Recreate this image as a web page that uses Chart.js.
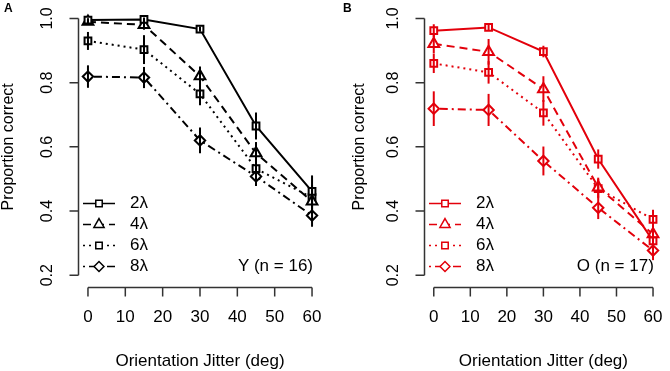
<!DOCTYPE html>
<html>
<head>
<meta charset="utf-8">
<script src="https://cdn.jsdelivr.net/npm/chart.js@4"></script>
<style>
html,body{margin:0;padding:0;background:#fff;}
#wrap{position:relative;width:670px;height:371px;overflow:hidden;}
.p{position:absolute;top:0;width:335px;height:371px;}
</style>
</head>
<body>
<div id="wrap">
  <div class="p" style="left:0"><canvas id="cA" width="335" height="371"></canvas></div>
  <div class="p" style="left:335px"><canvas id="cB" width="335" height="371"></canvas></div>
</div>
<script>
// ---- data ----
const jitter = [0, 15, 30, 45, 60];
const seriesLabels = ['2λ', '4λ', '6λ', '8λ'];
const yTicks = [0.2, 0.4, 0.6, 0.8, 1.0];
const yTickLabels = ['0.2', '0.4', '0.6', '0.8', '1.0'];
const xTicks = [0, 10, 20, 30, 40, 50, 60];
const xTickLabels = ['0', '10', '20', '30', '40', '50', '60'];

const youngMean2 = [0.995, 0.997, 0.967, 0.665, 0.461];
const youngMean4 = [0.990, 0.980, 0.820, 0.580, 0.430];
const youngMean6 = [0.930, 0.903, 0.765, 0.532, 0.442];
const youngMean8 = [0.819, 0.816, 0.620, 0.508, 0.386];
const youngErr2 = [0.006, 0.006, 0.008, 0.042, 0.050];
const youngErr4 = [0.008, 0.015, 0.030, 0.035, 0.040];
const youngErr6 = [0.028, 0.045, 0.035, 0.030, 0.040];
const youngErr8 = [0.035, 0.033, 0.040, 0.030, 0.035];

const oldMean2 = [0.962, 0.972, 0.897, 0.562, 0.307];
const oldMean4 = [0.921, 0.896, 0.780, 0.474, 0.328];
const oldMean6 = [0.860, 0.832, 0.706, 0.470, 0.374];
const oldMean8 = [0.719, 0.715, 0.556, 0.410, 0.277];
const oldErr2 = [0.020, 0.010, 0.018, 0.030, 0.030];
const oldErr4 = [0.030, 0.040, 0.040, 0.030, 0.030];
const oldErr6 = [0.030, 0.035, 0.040, 0.030, 0.030];
const oldErr8 = [0.054, 0.050, 0.045, 0.035, 0.030];

const xTitle = 'Orientation Jitter (deg)';
const yTitle = 'Proportion correct';

// ---- styles ----
const FONT = '"Liberation Sans", Arial, Helvetica, sans-serif';
const dashes = [[], [8, 5], [2, 4], [2, 4, 8, 4]];
const pStyles = ['rect', 'triangle', 'rect', 'rectRot'];
const pRadius = [4.8, 6.2, 4.8, 5.2];

function pts(arr) { return jitter.map((x, i) => ({x: x, y: arr[i]})); }

function makeDatasets(means, color) {
  return means.map((m, k) => ({
    label: seriesLabels[k],
    data: pts(m),
    borderColor: color,
    backgroundColor: '#fff',
    borderWidth: 2,
    borderDash: dashes[k],
    pointStyle: pStyles[k],
    pointRadius: pRadius[k],
    pointBorderWidth: 2,
    pointBorderColor: color,
    pointBackgroundColor: '#fff',
    fill: false,
    tension: 0
  }));
}

function legendPoint(ctx, style, r, x, y, color) {
  ctx.save();
  ctx.setLineDash([]);
  ctx.strokeStyle = color; ctx.fillStyle = '#fff'; ctx.lineWidth = 1.5;
  Chart.helpers.drawPoint(ctx, {pointStyle: style, radius: r, borderWidth: 1.5, rotation: 0}, x, y);
  ctx.restore();
}

function panelPlugin(opt) {
  return {
    id: 'panel' + opt.letter,
    afterDatasetsDraw(chart) {
      const ctx = chart.ctx, xs = chart.scales.x, ys = chart.scales.y;
      ctx.save();
      ctx.strokeStyle = opt.color;
      ctx.lineWidth = 2;
      ctx.setLineDash([]);
      opt.errs.forEach((errArr, k) => {
        const m = opt.means[k];
        jitter.forEach((x, i) => {
          const px = xs.getPixelForValue(x);
          ctx.beginPath();
          ctx.moveTo(px, ys.getPixelForValue(m[i] + errArr[i]));
          ctx.lineTo(px, ys.getPixelForValue(m[i] - errArr[i]));
          ctx.stroke();
        });
      });
      ctx.restore();
    },
    afterDraw(chart) {
      const ctx = chart.ctx, xs = chart.scales.x, ys = chart.scales.y;
      const ca = chart.chartArea;
      ctx.save();
      ctx.strokeStyle = '#333';
      ctx.fillStyle = '#000';
      ctx.lineWidth = 1.5;
      ctx.setLineDash([]);
      // y axis
      const ax = Math.round(ca.left) - 0.5;
      ctx.beginPath();
      ctx.moveTo(ax, ys.getPixelForValue(yTicks[0]));
      ctx.lineTo(ax, ys.getPixelForValue(yTicks[yTicks.length - 1]));
      yTicks.forEach(v => {
        const py = ys.getPixelForValue(v);
        ctx.moveTo(ax, py); ctx.lineTo(ax - 9, py);
      });
      ctx.stroke();
      ctx.font = '16px ' + FONT;
      ctx.textAlign = 'center';
      ctx.textBaseline = 'middle';
      yTicks.forEach((v, i) => {
        const py = ys.getPixelForValue(v);
        ctx.save();
        ctx.translate(ax - 31, py);
        ctx.rotate(-Math.PI / 2);
        ctx.fillText(yTickLabels[i], 0, 0);
        ctx.restore();
      });
      // x axis
      const ay = Math.round(ca.bottom) + 1.5;
      ctx.beginPath();
      ctx.moveTo(xs.getPixelForValue(xTicks[0]), ay);
      ctx.lineTo(xs.getPixelForValue(xTicks[xTicks.length - 1]), ay);
      xTicks.forEach(v => {
        const px = xs.getPixelForValue(v);
        ctx.moveTo(px, ay); ctx.lineTo(px, ay + 9);
      });
      ctx.stroke();
      ctx.font = '17px ' + FONT;
      xTicks.forEach((v, i) => {
        ctx.fillText(xTickLabels[i], xs.getPixelForValue(v), ay + 30);
      });
      // titles
      ctx.fillText(xTitle, (ca.left + ca.right) / 2, ay + 74);
      ctx.save();
      ctx.translate(ca.left - opt.yTitleOffset, (ca.top + ca.bottom) / 2);
      ctx.rotate(-Math.PI / 2);
      ctx.font = '16px ' + FONT;
      ctx.fillText(yTitle, 0, 0);
      ctx.restore();
      // panel letter
      ctx.font = 'bold 12px ' + FONT;
      ctx.textAlign = 'left';
      ctx.fillText(opt.letter, opt.letterX, 9);
      // group annotation
      ctx.font = '17px ' + FONT;
      ctx.textAlign = 'right';
      ctx.fillText(opt.note, ca.right - 8, 266);
      // legend
      const lx0 = ca.left + 4, lx1 = ca.left + 36, mx = ca.left + 20, tx = ca.left + 51;
      const ly = [203.5, 224.5, 245.5, 266.5];
      seriesLabels.forEach((lab, k) => {
        ctx.strokeStyle = opt.color;
        ctx.lineWidth = 1.5;
        ctx.setLineDash(dashes[k]);
        ctx.beginPath();
        ctx.moveTo(lx0, ly[k]); ctx.lineTo(lx1, ly[k]);
        ctx.stroke();
        legendPoint(ctx, pStyles[k], pRadius[k] * 0.95, mx, ly[k], opt.color);
        ctx.fillStyle = '#000';
        ctx.textAlign = 'left';
        ctx.fillText(lab, tx, ly[k]);
      });
      ctx.restore();
    }
  };
}

function build(id, means, errs, color, letter, note, padLeft, padRight, yTitleOffset, letterX) {
  const plug = panelPlugin({means, errs, color, letter, note, yTitleOffset, letterX});
  return new Chart(document.getElementById(id), {
    type: 'line',
    data: {datasets: makeDatasets(means, color)},
    options: {
      responsive: false,
      animation: false,
      layout: {padding: {left: padLeft, right: padRight, top: 4, bottom: 85.5}},
      plugins: {legend: {display: false}, tooltip: {enabled: false}},
      scales: {
        x: {type: 'linear', min: -2.4, max: 62.4, display: false},
        y: {type: 'linear', min: 0.168, max: 1.032, display: false}
      }
    },
    plugins: [plug]
  });
}

build('cA', [youngMean2, youngMean4, youngMean6, youngMean8],
      [youngErr2, youngErr4, youngErr6, youngErr8],
      '#000', 'A', 'Y (n = 16)', 79, 14, 70, 4);
build('cB', [oldMean2, oldMean4, oldMean6, oldMean8],
      [oldErr2, oldErr4, oldErr6, oldErr8],
      '#e3000b', 'B', 'O (n = 17)', 90, 3.5, 65, 8);
</script>
</body>
</html>
